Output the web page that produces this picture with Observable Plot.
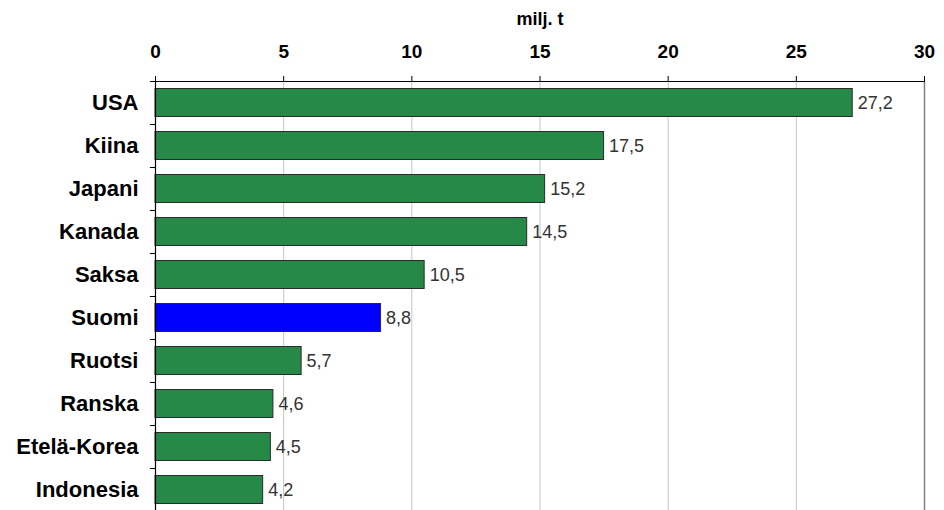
<!DOCTYPE html>
<html>
<head>
<meta charset="utf-8">
<script src="https://cdn.jsdelivr.net/npm/d3@7"></script>
<script src="https://cdn.jsdelivr.net/npm/@observablehq/plot@0.6"></script>
<style>
  html, body { margin: 0; padding: 0; background: #fff; }
  #chart { width: 944px; height: 510px; overflow: hidden; }
</style>
</head>
<body>
<div id="chart"></div>
<script>
const countries = ["USA", "Kiina", "Japani", "Kanada", "Saksa", "Suomi", "Ruotsi", "Ranska", "Etelä-Korea", "Indonesia"];
const values = [27.2, 17.5, 15.2, 14.5, 10.5, 8.8, 5.7, 4.6, 4.5, 4.2];
const highlight = "Suomi";
const xTicks = [0, 5, 10, 15, 20, 25, 30];
const gridTicks = [5, 10, 15, 20, 25];
const unitLabel = "milj. t";

const data = countries.map((c, i) => ({country: c, value: values[i]}));
const font = "'Liberation Sans', Arial, sans-serif";
const fmt = v => v.toFixed(1).replace(".", ",");

const chart = Plot.plot({
  width: 944,
  height: 511,
  marginLeft: 155,
  marginRight: 20,
  marginTop: 81,
  marginBottom: 0,
  style: {fontFamily: font, background: "#fff", overflow: "visible"},
  x: {domain: [0, 30], axis: null},
  y: {domain: countries, padding: 0, axis: null},
  marks: [
    Plot.ruleX(gridTicks, {stroke: "#c4c4c4", strokeWidth: 1}),
    Plot.ruleX([30], {stroke: "#808080", strokeWidth: 1.5}),
    Plot.barX(data, {
      x: "value", y: "country",
      fill: d => d.country === highlight ? "#0000ff" : "#268947",
      stroke: "#2a2a2a", strokeWidth: 1,
      insetTop: 7.5, insetBottom: 7.5
    }),
    Plot.text(data, {
      x: "value", y: "country", text: d => fmt(d.value),
      dx: 5, textAnchor: "start", fontSize: 18, fill: "#333"
    }),
    Plot.ruleX([0], {stroke: "#000", strokeWidth: 1.2}),
    Plot.ruleY(countries.slice(0, 1), {x1: 0, x2: 30, dy: -21.5, stroke: "#000", strokeWidth: 1.2}),
    Plot.ruleY(countries, {x1: -0.2, x2: 0, dy: -21.5, stroke: "#000"}),
    Plot.axisX({
      anchor: "top", ticks: xTicks, tickSize: 6, tickPadding: 18,
      tickFormat: d => String(d), fontSize: 19, fontWeight: "bold",
      label: null, stroke: "#000", fill: "#000"
    }),
    Plot.text(countries, {
      x: 0, y: d => d, text: d => d, dx: -17, textAnchor: "end",
      fontSize: 22, fontWeight: "bold", fill: "#000"
    }),
    Plot.text([unitLabel], {
      frameAnchor: "top", lineAnchor: "middle", dy: -62, text: d => d,
      fontSize: 18, fontWeight: "bold", fill: "#000"
    })
  ]
});
document.getElementById("chart").appendChild(chart);
</script>
</body>
</html>
